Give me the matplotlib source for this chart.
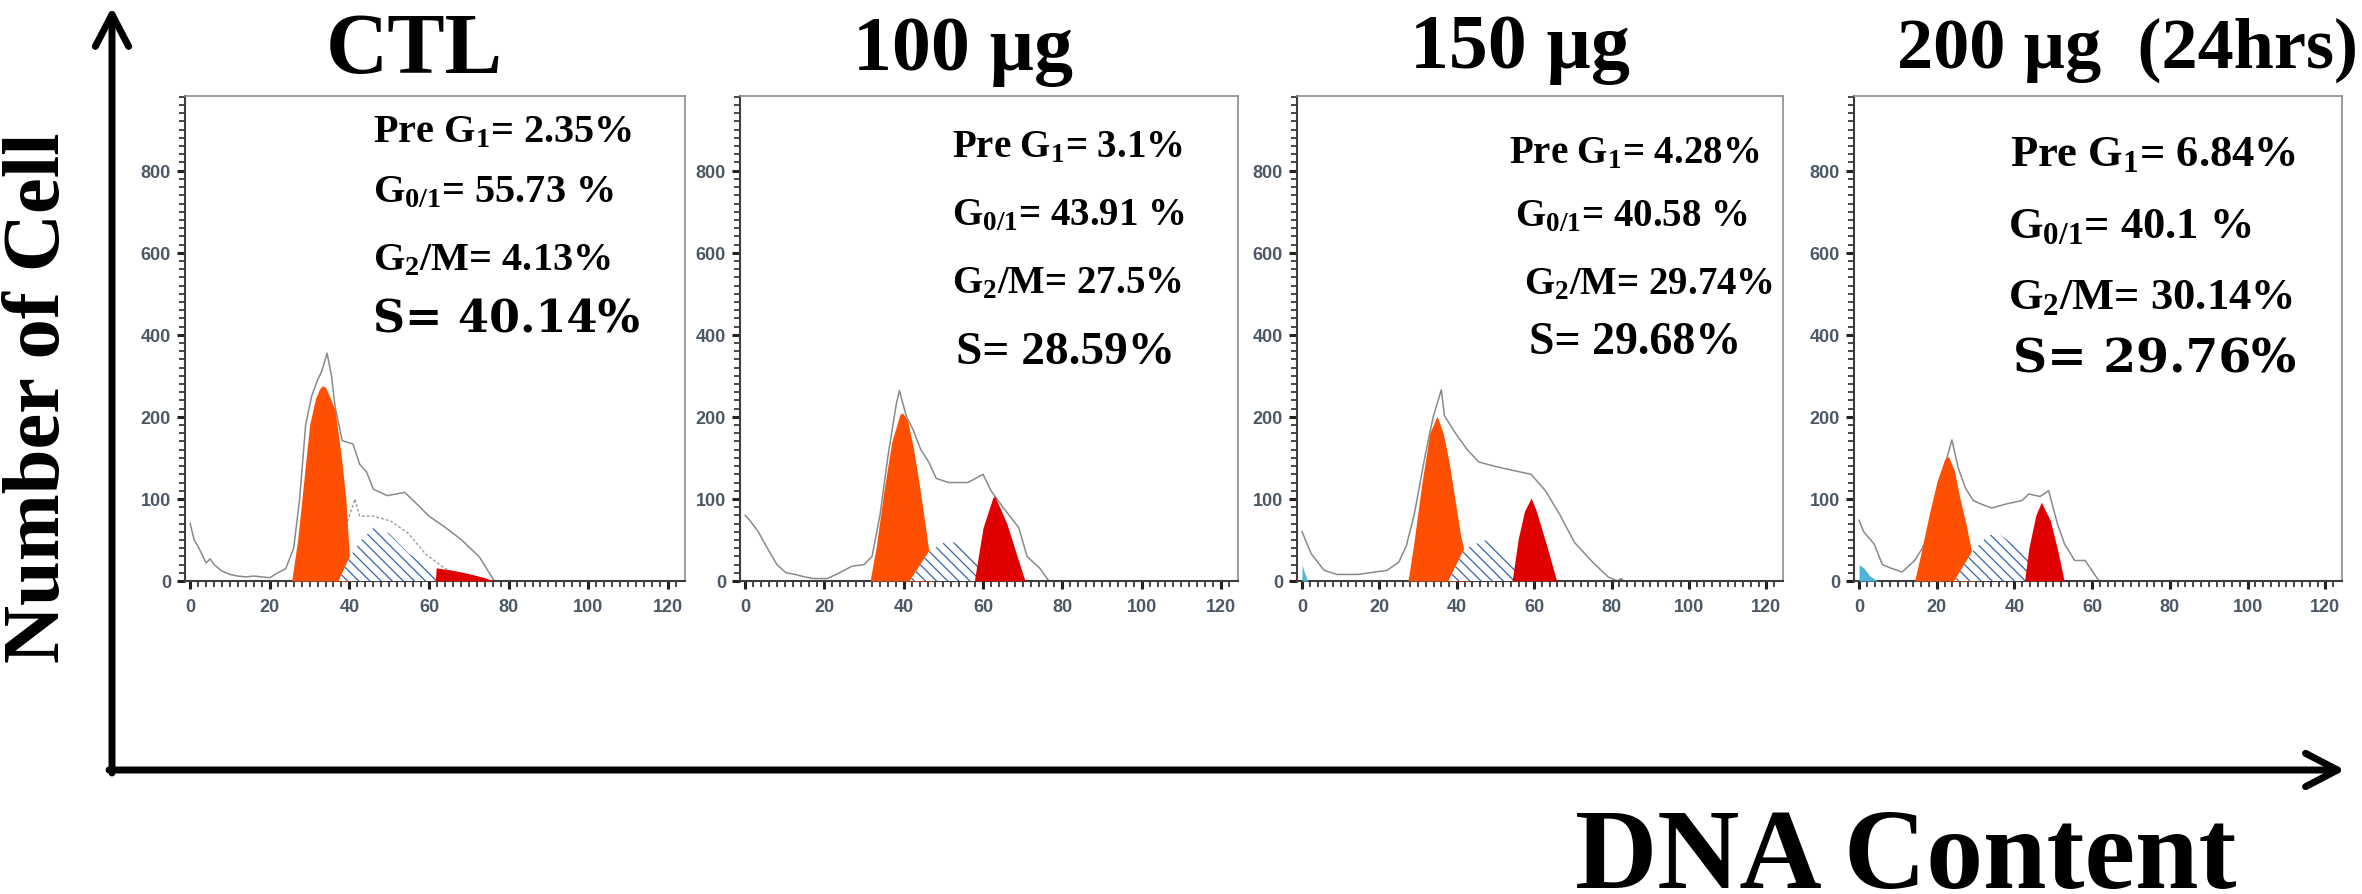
import numpy as np
import matplotlib
matplotlib.use('Agg')
import matplotlib.pyplot as plt
from matplotlib.ticker import FixedLocator

W, H = 2362, 895

plt.rcParams['mathtext.fontset'] = 'custom'
plt.rcParams['mathtext.rm'] = 'Liberation Serif:bold'
plt.rcParams['mathtext.it'] = 'Liberation Serif:bold'
plt.rcParams['mathtext.bf'] = 'Liberation Serif:bold'
plt.rcParams['hatch.linewidth'] = 0.9

# ---- values (x = DNA content channel, y = number of cells) ----
TITLES = ['CTL', '100 µg', '150 µg', '200 µg  (24hrs)']
PRE_G1 = ['2.35%', '3.1%', '4.28%', '6.84%']
G01 = ['55.73 %', '43.91 %', '40.58 %', '40.1 %']
G2M = ['4.13%', '27.5%', '29.74%', '30.14%']
S_PH = ['40.14%', '28.59%', '29.68%', '29.76%']

# CTL
CTL_GRAY_X = [0, 1, 2, 4, 5, 6, 8, 10, 12, 14, 16, 18, 20, 22, 24, 26, 27.5, 29, 30.5, 32, 33,
              34.4, 35.5, 36.4, 38.2, 40.9, 42.6, 44.3, 46, 49.5, 53.9, 56.5, 60, 63.6, 68.2, 72.7, 76.4]
CTL_GRAY_Y = [70, 50, 42, 22, 27, 20, 12, 8, 6, 5, 6, 5, 4, 10, 15, 40, 100, 190, 250, 290, 310,
              355, 300, 225, 171, 167, 142, 133, 112, 104, 108, 96, 79, 67, 50, 29, 0]
CTL_FIT_X = [39.1, 41.4, 42.6, 46, 50.4, 54.8, 59.1, 63.5, 68.2, 72]
CTL_FIT_Y = [67, 100, 79, 79, 73, 58, 33, 17, 4, 0]
CTL_G1_X = [25.5, 27, 28.5, 30, 31.5, 32.5, 33.2, 34, 35, 36.4, 38, 39.1, 40, 40.5]
CTL_G1_Y = [0, 50, 120, 190, 245, 268, 276, 272, 250, 216, 150, 100, 29, 0]
CTL_S_X = [37.3, 40, 43, 46.5, 50, 55, 60, 63, 66]
CTL_S_Y = [0, 29, 50, 67, 58, 33, 18, 8, 0]
CTL_G2_X = [61.6, 61.8, 66, 70, 74, 76.4]
CTL_G2_Y = [0, 16, 13, 9, 4, 0]

# 100 ug
D100_GRAY_X = [0, 1, 3.3, 5.6, 8, 10.3, 12.6, 15, 17.3, 20.7, 23.8, 26.9, 30, 32, 34, 36.1, 38.1,
               38.9, 40.7, 42.3, 44.3, 46.3, 48.2, 51.3, 56.2, 60, 62, 65, 69, 71.1, 74.4, 76.6]
D100_GRAY_Y = [80, 75, 60, 40, 20, 10, 8, 5, 3, 3, 10, 18, 20, 30, 80, 155, 230,
               264, 200, 185, 160, 145, 125, 120, 120, 130, 110, 90, 65, 30, 15, 0]
D100_G1_X = [31.5, 33, 35, 37, 39, 39.7, 41, 42.5, 44, 45.5, 46.5, 47.5]
D100_G1_Y = [0, 40, 110, 170, 205, 210, 195, 160, 115, 65, 30, 0]
D100_S_X = [41.5, 46.2, 50.2, 52.7, 56.2, 59.3, 63.7]
D100_S_Y = [0, 35, 47, 47, 40, 25, 0]
D100_G2_X = [57.8, 60, 62.5, 63, 66, 68.6, 70.6]
D100_G2_Y = [0, 65, 102, 103, 70, 30, 0]

# 150 ug
D150_GRAY_X = [0, 2.4, 5.7, 9, 14.5, 18.9, 22, 25, 26.9, 29, 31.9, 33.9, 36, 36.8, 39.8, 42.7,
               45.7, 49.6, 54.3, 59.2, 62.9, 66.6, 70.4, 75.1, 79.1, 81.5, 82.5, 83]
D150_GRAY_Y = [60, 33, 13, 8, 8, 11, 13, 23, 42, 81, 155, 200, 266, 203, 179, 160,
               145, 140, 135, 130, 110, 81, 47, 23, 5, 0, 3, 0]
D150_G1_X = [27.4, 29, 31, 33, 34.9, 36.5, 38, 39.5, 41, 42, 43]
D150_G1_Y = [0, 50, 120, 180, 202, 180, 145, 100, 55, 35, 0]
D150_S_X = [37.8, 41.8, 45.7, 47.7, 51.1, 55.3, 59.1]
D150_S_Y = [0, 38, 47, 50, 40, 23, 0]
D150_G2_X = [54.3, 55.9, 57.5, 59.2, 60.5, 63.3, 65.8]
D150_G2_Y = [0, 52, 85, 101, 86, 42, 0]
D150_SUB_X = [0, 0.5, 1.5]
D150_SUB_Y = [20, 12, 0]

# 200 ug (24 hrs)
D200_GRAY_X = [0, 1.2, 3.9, 6, 8, 11.1, 14.3, 16.3, 19.5, 21.6, 23.9, 25.5, 27.4, 29.4, 31.3,
               34.1, 38, 41.9, 43.7, 46.6, 48.8, 51.1, 52.9, 55.5, 58.2, 60.9, 61.8]
D200_GRAY_Y = [74, 60, 45, 20, 16, 11, 25, 40, 74, 133, 172, 138, 113, 98, 94,
               89, 94, 98, 106, 103, 110, 69, 45, 25, 25, 6, 0]
D200_G1_X = [14.3, 16, 18, 20, 22, 23, 24.5, 26, 27.5, 29, 30]
D200_G1_Y = [0, 35, 80, 120, 148, 152, 135, 100, 70, 35, 0]
D200_S_X = [24.5, 29, 32.4, 35.3, 39, 42.8, 46.4]
D200_S_Y = [0, 35, 52, 60, 47, 35, 0]
D200_G2_X = [42.6, 43.7, 45.5, 46.9, 49.2, 51, 52.8]
D200_G2_Y = [0, 40, 80, 96, 74, 40, 0]
D200_SUB_X = [0, 1.2, 2.8, 4.9]
D200_SUB_Y = [20, 16, 6, 0]

panels = [
    dict(gray=(CTL_GRAY_X, CTL_GRAY_Y), fit=(CTL_FIT_X, CTL_FIT_Y), g1=(CTL_G1_X, CTL_G1_Y),
         s=(CTL_S_X, CTL_S_Y), g2=(CTL_G2_X, CTL_G2_Y), sub=None),
    dict(gray=(D100_GRAY_X, D100_GRAY_Y), fit=None, g1=(D100_G1_X, D100_G1_Y),
         s=(D100_S_X, D100_S_Y), g2=(D100_G2_X, D100_G2_Y), sub=None),
    dict(gray=(D150_GRAY_X, D150_GRAY_Y), fit=None, g1=(D150_G1_X, D150_G1_Y),
         s=(D150_S_X, D150_S_Y), g2=(D150_G2_X, D150_G2_Y), sub=(D150_SUB_X, D150_SUB_Y)),
    dict(gray=(D200_GRAY_X, D200_GRAY_Y), fit=None, g1=(D200_G1_X, D200_G1_Y),
         s=(D200_S_X, D200_S_Y), g2=(D200_G2_X, D200_G2_Y), sub=(D200_SUB_X, D200_SUB_Y)),
]

# cytometer y axis: labelled ticks are evenly spaced, not linear
YV = [0, 100, 200, 400, 600, 800, 1000]
YU = [0, 1, 2, 3, 4, 5, 6]


def fwd(v):
    return np.interp(v, YV, YU)


def inv(u):
    return np.interp(u, YU, YV)


# ---- layout (pixels) ----
FRAMES = [(185, 685), (740, 1238), (1297, 1783), (1854, 2342)]
TOP, BOT = 97, 582
TICK_FONT = ['Liberation Sans Narrow', 'Liberation Sans', 'DejaVu Sans']

fig = plt.figure(figsize=(W / 100, H / 100), dpi=100)

for p, (x0, x1) in zip(panels, FRAMES):
    ax = fig.add_axes([x0 / W, 1 - BOT / H, (x1 - x0) / W, (BOT - TOP) / H])
    ax.set_yscale('function', functions=(fwd, inv))
    ax.set_xlim(-1.3, 124.3)
    ax.set_ylim(0, 982)

    ax.plot(*p['gray'], color='#8a8a8a', lw=1.1, zorder=2)
    if p['fit'] is not None:
        ax.plot(*p['fit'], color='#9a9a9a', lw=1.0, ls=(0, (2, 1.5)), zorder=2)
    ax.fill_between(*p['g1'], 0, color='#ff4f00', lw=0, zorder=3)
    ax.fill_between(*p['s'], 0, facecolor='white', edgecolor='#3565ad', hatch='\\\\\\', lw=0, zorder=4)
    ax.fill_between(*p['g2'], 0, color='#e00000', lw=0, zorder=5)
    if p['sub'] is not None:
        ax.fill_between(*p['sub'], 0, color='#4fb3d9', lw=0, zorder=5)

    ax.set_xticks(range(0, 121, 20))
    ax.xaxis.set_minor_locator(FixedLocator(np.arange(0, 124, 2)))
    ax.set_yticks([0, 100, 200, 400, 600, 800])
    ax.set_yticklabels(['0', '100', '200', '400', '600', '800'])
    ax.yaxis.set_minor_locator(FixedLocator(np.concatenate([np.arange(0, 200, 10), np.arange(200, 981, 20)])))
    ax.tick_params(which='major', direction='out', length=6, width=2.2, color='#222222',
                   labelsize=13, labelcolor='#4d5866')
    ax.tick_params(which='minor', direction='out', length=4, width=1.3, color='#3a3a3a')
    ax.tick_params(axis='x', pad=6)
    ax.tick_params(axis='y', pad=4)
    for lbl in ax.get_xticklabels() + ax.get_yticklabels():
        lbl.set_fontfamily(TICK_FONT)
        lbl.set_fontweight('bold')

    for side in ['top', 'right']:
        ax.spines[side].set_color('#8c8c8c')
        ax.spines[side].set_linewidth(1.2)
    for side in ['left', 'bottom']:
        ax.spines[side].set_color('#3c3c3c')
        ax.spines[side].set_linewidth(1.5)

# overlay in pixel coordinates for arrows and big labels
bg = fig.add_axes([0, 0, 1, 1], zorder=10)
bg.set_xlim(0, W)
bg.set_ylim(H, 0)
bg.axis('off')
bg.patch.set_alpha(0)

arrow = dict(arrowstyle='->,head_length=1.15,head_width=0.6', lw=5, color='black',
             shrinkA=0, shrinkB=0, mutation_scale=20)
bg.annotate('', xy=(112, 8), xytext=(112, 774), arrowprops=arrow)
bg.annotate('', xy=(2345, 771), xytext=(109, 771), arrowprops=arrow)

SERIF = 'Liberation Serif'
bg.text(40, 398, 'Number of Cell', rotation=90, ha='center', va='center',
        family=SERIF, weight='bold', fontsize=58)
bg.text(1575, 888, 'DNA Content', ha='left', va='baseline', family=SERIF, weight='bold', fontsize=82)

bg.text(414, 73, TITLES[0], ha='center', va='baseline', family=SERIF, weight='bold', fontsize=62)
bg.text(963, 70, TITLES[1], ha='center', va='baseline', family=SERIF, weight='bold', fontsize=56)
bg.text(1520, 68, TITLES[2], ha='center', va='baseline', family=SERIF, weight='bold', fontsize=56)
bg.text(2358, 68, TITLES[3], ha='right', va='baseline', family=SERIF, weight='bold', fontsize=52)

# phase percentages
ANNOT_LEFT = [(373, 373, 373, 373), (952, 952, 952, 956), (1509, 1515, 1524, 1529), (2010, 2008, 2008, 2013)]
ANNOT_BASE = [(142, 202, 270, 332), (157, 225, 293, 364), (163, 226, 294, 354), (166, 238, 309, 372)]
ANNOT_SIZE = [(29, 29, 29, 32), (28, 28, 28, 34), (28, 28, 28, 33), (32, 32, 32, 34)]
S_FONT = ['DejaVu Serif', SERIF, SERIF, 'DejaVu Serif']

for i in range(4):
    lines = ['Pre G$_1$= ' + PRE_G1[i], 'G$_{0/1}$= ' + G01[i], 'G$_2$/M= ' + G2M[i], 'S= ' + S_PH[i]]
    fams = [SERIF, SERIF, SERIF, S_FONT[i]]
    for j, s in enumerate(lines):
        bg.text(ANNOT_LEFT[i][j], ANNOT_BASE[i][j], s, ha='left', va='baseline',
                family=fams[j], weight='bold', fontsize=ANNOT_SIZE[i][j])

fig.savefig('out.png', dpi=100)
